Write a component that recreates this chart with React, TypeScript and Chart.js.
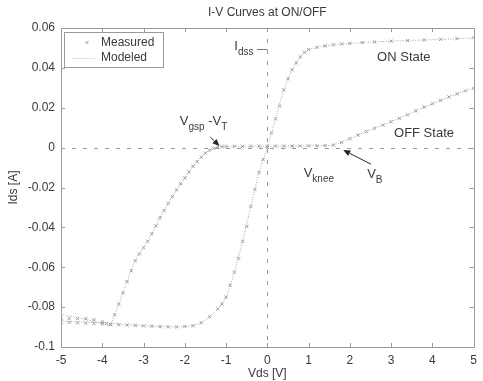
import React, { useEffect, useRef } from "react";
import { Chart, registerables } from "chart.js";

Chart.register(...registerables);

const TITLE = "I-V Curves at ON/OFF";
const X_LABEL = "Vds [V]";
const Y_LABEL = "Ids [A]";
const X_TICKS = [-5, -4, -3, -2, -1, 0, 1, 2, 3, 4, 5];
const Y_TICKS = [-0.1, -0.08, -0.06, -0.04, -0.02, 0, 0.02, 0.04, 0.06];
const LEGEND_LABELS = ["Measured", "Modeled"];

// ON state, measured
const ON_X = [-5.0, -4.8, -4.6, -4.4, -4.2, -4.0, -3.8, -3.6, -3.4, -3.2, -3.0, -2.8, -2.6, -2.4, -2.2, -2.0, -1.8, -1.6, -1.4, -1.2, -1.1, -1.0, -0.9, -0.8, -0.7, -0.6, -0.5, -0.4, -0.3, -0.2, -0.1, 0.0, 0.1, 0.2, 0.3, 0.4, 0.5, 0.6, 0.7, 0.8, 0.9, 1.0, 1.2, 1.4, 1.6, 1.8, 2.0, 2.3, 2.6, 3.0, 3.4, 3.8, 4.2, 4.6, 5.0];
const ON_MEAS = [-0.0875, -0.0877, -0.0878, -0.088, -0.0882, -0.0884, -0.0886, -0.0888, -0.089, -0.0892, -0.0894, -0.0896, -0.0898, -0.0899, -0.0899, -0.0897, -0.0893, -0.0878, -0.0848, -0.081, -0.0785, -0.075, -0.069, -0.0625, -0.0555, -0.047, -0.0395, -0.0295, -0.021, -0.0125, -0.006, 0.0, 0.0075, 0.0145, 0.021, 0.029, 0.0345, 0.039, 0.0425, 0.0455, 0.0478, 0.0492, 0.0503, 0.051, 0.0516, 0.052, 0.0523, 0.0527, 0.053, 0.0534, 0.0537, 0.054, 0.0543, 0.0547, 0.0551];

// OFF state, measured
const OFF_X = [-5.0, -4.8, -4.6, -4.4, -4.2, -4.0, -3.9, -3.8, -3.7, -3.6, -3.5, -3.4, -3.3, -3.2, -3.1, -3.0, -2.9, -2.8, -2.7, -2.6, -2.5, -2.4, -2.3, -2.2, -2.1, -2.0, -1.9, -1.8, -1.7, -1.6, -1.5, -1.4, -1.3, -1.2, -1.1, -1.0, -0.8, -0.6, -0.4, -0.2, 0.0, 0.2, 0.4, 0.6, 0.8, 1.0, 1.2, 1.4, 1.6, 1.8, 2.0, 2.2, 2.4, 2.6, 2.8, 3.0, 3.2, 3.4, 3.6, 3.8, 4.0, 4.2, 4.4, 4.6, 4.8, 5.0];
const OFF_MEAS = [-0.0855, -0.0857, -0.0857, -0.0858, -0.0864, -0.0874, -0.0882, -0.0888, -0.0838, -0.0785, -0.0728, -0.0672, -0.0618, -0.0567, -0.0533, -0.0502, -0.047, -0.0432, -0.0392, -0.0352, -0.0315, -0.028, -0.0246, -0.0212, -0.0181, -0.0152, -0.0122, -0.0094, -0.007, -0.0048, -0.0028, -0.0013, -0.0004, 0.0002, 0.0005, 0.0006, 0.0006, 0.0006, 0.0007, 0.0007, 0.0008, 0.0008, 0.0008, 0.0008, 0.0008, 0.0009, 0.0009, 0.001, 0.0013, 0.0026, 0.0045, 0.0063, 0.0081, 0.0097, 0.0113, 0.013, 0.0147, 0.0165, 0.0185, 0.0203, 0.022, 0.0237, 0.0254, 0.027, 0.0285, 0.0298];

// Modeled curves
const ON_MODEL_X = [-5, -4, -3, -2.5, -2, -1.8, -1.6, -1.4, -1.2, -1.0, -0.8, -0.6, -0.4, -0.2, 0, 0.2, 0.4, 0.6, 0.8, 1.0, 1.2, 1.5, 2, 2.5, 3, 3.5, 4, 4.5, 5];
const ON_MODEL = [-0.087, -0.088, -0.0893, -0.0898, -0.0897, -0.0892, -0.0877, -0.0848, -0.0808, -0.0748, -0.0625, -0.047, -0.0295, -0.0125, 0, 0.0145, 0.029, 0.039, 0.0455, 0.049, 0.0503, 0.0513, 0.0523, 0.0529, 0.0534, 0.0538, 0.0541, 0.0545, 0.055];
const OFF_MODEL_X = [-5, -4.5, -4, -3.82, -3.6, -3.4, -3.2, -3.0, -2.8, -2.6, -2.4, -2.2, -2.0, -1.8, -1.6, -1.4, -1.2, -1.0, 0, 1.0, 1.5, 1.7, 2.0, 2.5, 3.0, 3.5, 4.0, 4.5, 5.0];
const OFF_MODEL = [-0.0835, -0.0857, -0.088, -0.089, -0.0785, -0.0672, -0.0567, -0.0502, -0.0432, -0.0352, -0.028, -0.0212, -0.0152, -0.0094, -0.0048, -0.0013, 0.0002, 0.0006, 0.0007, 0.0009, 0.0011, 0.002, 0.0045, 0.0089, 0.013, 0.0175, 0.022, 0.0262, 0.03];

const FONT = '"Liberation Sans", Arial, Helvetica, sans-serif';
const TEXT = "#3a3a3a";
const AXIS = "#9a9a9a";

const pts = (xs: number[], ys: number[]) => xs.map((x, i) => ({ x, y: ys[i] }));

function drawParts(ctx: CanvasRenderingContext2D, parts: [string, boolean][], x: number, y: number) {
  let cx = x;
  ctx.textAlign = "left";
  ctx.textBaseline = "alphabetic";
  for (const [t, sub] of parts) {
    ctx.font = (sub ? "10px " : "13px ") + FONT;
    ctx.fillText(t, cx, sub ? y + 5 : y);
    cx += ctx.measureText(t).width;
  }
}

function drawArrow(ctx: CanvasRenderingContext2D, x1: number, y1: number, x2: number, y2: number) {
  const a = Math.atan2(y2 - y1, x2 - x1);
  const L = 7, W = 3;
  ctx.strokeStyle = "#222";
  ctx.fillStyle = "#222";
  ctx.lineWidth = 1;
  ctx.setLineDash([]);
  ctx.beginPath();
  ctx.moveTo(x1, y1);
  ctx.lineTo(x2 - L * Math.cos(a), y2 - L * Math.sin(a));
  ctx.stroke();
  ctx.beginPath();
  ctx.moveTo(x2, y2);
  ctx.lineTo(x2 - L * Math.cos(a) - W * Math.sin(a), y2 - L * Math.sin(a) + W * Math.cos(a));
  ctx.lineTo(x2 - L * Math.cos(a) + W * Math.sin(a), y2 - L * Math.sin(a) - W * Math.cos(a));
  ctx.closePath();
  ctx.fill();
}

const framePlugin = {
  id: "frame",
  beforeDatasetsDraw(chart: any) {
    const { ctx, chartArea: a, scales } = chart;
    const x0 = scales.x.getPixelForValue(0);
    const y0 = scales.y.getPixelForValue(0);
    ctx.save();
    ctx.strokeStyle = "#999";
    ctx.lineWidth = 1;
    ctx.setLineDash([4, 7]);
    ctx.beginPath();
    ctx.moveTo(a.left, Math.round(y0) + 0.5);
    ctx.lineTo(a.right, Math.round(y0) + 0.5);
    ctx.moveTo(Math.round(x0) + 0.5, a.top);
    ctx.lineTo(Math.round(x0) + 0.5, a.bottom);
    ctx.stroke();
    ctx.restore();
  },
  afterDraw(chart: any) {
    const { ctx, chartArea: a, scales } = chart;
    const sx = scales.x, sy = scales.y;
    const px = (v: number) => sx.getPixelForValue(v);
    const py = (v: number) => sy.getPixelForValue(v);
    ctx.save();
    // frame
    ctx.strokeStyle = AXIS;
    ctx.lineWidth = 1;
    ctx.setLineDash([]);
    ctx.strokeRect(Math.round(a.left) + 0.5, Math.round(a.top) + 0.5, Math.round(a.right - a.left), Math.round(a.bottom - a.top));
    // inward ticks
    const T = 4;
    ctx.beginPath();
    for (const v of X_TICKS) {
      const x = Math.round(px(v)) + 0.5;
      ctx.moveTo(x, a.bottom); ctx.lineTo(x, a.bottom - T);
      ctx.moveTo(x, a.top); ctx.lineTo(x, a.top + T);
    }
    for (const v of Y_TICKS) {
      const y = Math.round(py(v)) + 0.5;
      ctx.moveTo(a.left, y); ctx.lineTo(a.left + T, y);
      ctx.moveTo(a.right, y); ctx.lineTo(a.right - T, y);
    }
    ctx.stroke();

    // title and axis labels
    ctx.fillStyle = TEXT;
    ctx.font = "12px " + FONT;
    ctx.textAlign = "center";
    ctx.textBaseline = "middle";
    ctx.fillText(TITLE, (a.left + a.right) / 2, 13);
    ctx.fillText(X_LABEL, (a.left + a.right) / 2, 374);
    ctx.save();
    ctx.translate(14, (a.top + a.bottom) / 2);
    ctx.rotate(-Math.PI / 2);
    ctx.fillText(Y_LABEL, 0, 0);
    ctx.restore();

    // annotations
    ctx.fillStyle = TEXT;
    drawParts(ctx, [["I", false], ["dss", true]], px(-0.8), py(0.0492));
    ctx.strokeStyle = "#777";
    ctx.beginPath();
    ctx.moveTo(px(-0.25), Math.round(py(0.0497)) + 0.5);
    ctx.lineTo(px(0), Math.round(py(0.0497)) + 0.5);
    ctx.stroke();
    ctx.fillStyle = TEXT;
    drawParts(ctx, [["V", false], ["gsp", true], [" -V", false], ["T", true]], px(-2.12), py(0.0113));
    drawArrow(ctx, px(-1.38), py(0.0053), px(-1.16), py(0.0008));
    ctx.fillStyle = TEXT;
    drawParts(ctx, [["V", false], ["knee", true]], px(0.88), py(-0.0148));
    drawParts(ctx, [["V", false], ["B", true]], px(2.42), py(-0.0152));
    drawArrow(ctx, px(2.51), py(-0.0083), px(1.84), py(-0.0012));
    ctx.fillStyle = TEXT;
    ctx.font = "13px " + FONT;
    ctx.textAlign = "left";
    ctx.textBaseline = "middle";
    ctx.fillText("ON State", px(2.66), py(0.0454));
    ctx.fillText("OFF State", px(3.07), py(0.0073));

    // legend
    const lx = a.left + 3, ly = a.top + 4;
    ctx.fillStyle = "#fff";
    ctx.fillRect(lx, ly, 99, 35);
    ctx.strokeStyle = AXIS;
    ctx.lineWidth = 1;
    ctx.strokeRect(Math.round(lx) + 0.5, Math.round(ly) + 0.5, 99, 35);
    ctx.strokeStyle = "#888";
    ctx.lineWidth = 0.8;
    ctx.beginPath();
    const mx = lx + 23, my = ly + 10.5;
    ctx.moveTo(mx - 1.5, my - 1.5); ctx.lineTo(mx + 1.5, my + 1.5);
    ctx.moveTo(mx + 1.5, my - 1.5); ctx.lineTo(mx - 1.5, my + 1.5);
    ctx.stroke();
    ctx.strokeStyle = "#b8b8b8";
    ctx.lineWidth = 1;
    ctx.setLineDash([1, 1.5]);
    ctx.beginPath();
    ctx.moveTo(lx + 8, ly + 26.5);
    ctx.lineTo(lx + 32, ly + 26.5);
    ctx.stroke();
    ctx.setLineDash([]);
    ctx.fillStyle = TEXT;
    ctx.font = "12px " + FONT;
    ctx.textAlign = "left";
    ctx.textBaseline = "middle";
    ctx.fillText(LEGEND_LABELS[0], lx + 37, ly + 10.5);
    ctx.fillText(LEGEND_LABELS[1], lx + 37, ly + 26);
    ctx.restore();
  },
};

export default function App() {
  const ref = useRef<HTMLCanvasElement | null>(null);
  useEffect(() => {
    const canvas = ref.current;
    if (!canvas) return;
    const modelStyle = {
      showLine: true,
      borderColor: "#a8a8a8",
      borderDash: [1, 1.5],
      borderWidth: 1,
      pointRadius: 0,
      fill: false,
      tension: 0.3,
    };
    const measStyle = {
      showLine: false,
      pointStyle: "crossRot",
      pointRadius: 2.3,
      borderColor: "#858585",
      backgroundColor: "transparent",
      borderWidth: 0.8,
    };
    const chart = new Chart(canvas, {
      type: "scatter",
      data: {
        datasets: [
          { label: "Modeled ON", data: pts(ON_MODEL_X, ON_MODEL), ...modelStyle },
          { label: "Modeled OFF", data: pts(OFF_MODEL_X, OFF_MODEL), ...modelStyle },
          { label: "Measured ON", data: pts(ON_X, ON_MEAS), ...measStyle },
          { label: "Measured OFF", data: pts(OFF_X, OFF_MEAS), ...measStyle },
        ] as any,
      },
      options: {
        responsive: false,
        animation: false,
        events: [],
        layout: { padding: { top: 28, right: 8, left: 0, bottom: 0 } },
        plugins: { legend: { display: false }, title: { display: false }, tooltip: { enabled: false } },
        scales: {
          x: {
            type: "linear",
            min: -5,
            max: 5,
            afterBuildTicks: (s: any) => { s.ticks = X_TICKS.map((v) => ({ value: v })); },
            afterFit: (s: any) => { s.height = 34; },
            grid: { display: false, drawTicks: false },
            border: { display: false },
            ticks: { padding: 6, color: TEXT, font: { size: 12, family: FONT }, callback: (v: any) => String(v) },
          },
          y: {
            type: "linear",
            min: -0.1,
            max: 0.06,
            afterBuildTicks: (s: any) => { s.ticks = Y_TICKS.map((v) => ({ value: v })); },
            afterFit: (s: any) => { s.width = 61; },
            grid: { display: false, drawTicks: false },
            border: { display: false },
            ticks: { padding: 6, color: TEXT, font: { size: 12, family: FONT }, callback: (v: any) => String(Number(Number(v).toFixed(2))) },
          },
        },
      } as any,
      plugins: [framePlugin],
    });
    return () => chart.destroy();
  }, []);
  return (
    <div style={{ position: "absolute", left: 0, top: 0, width: 483, height: 381, background: "#fff" }}>
      <canvas ref={ref} width={483} height={381} style={{ display: "block", width: 483, height: 381 }} />
    </div>
  );
}
